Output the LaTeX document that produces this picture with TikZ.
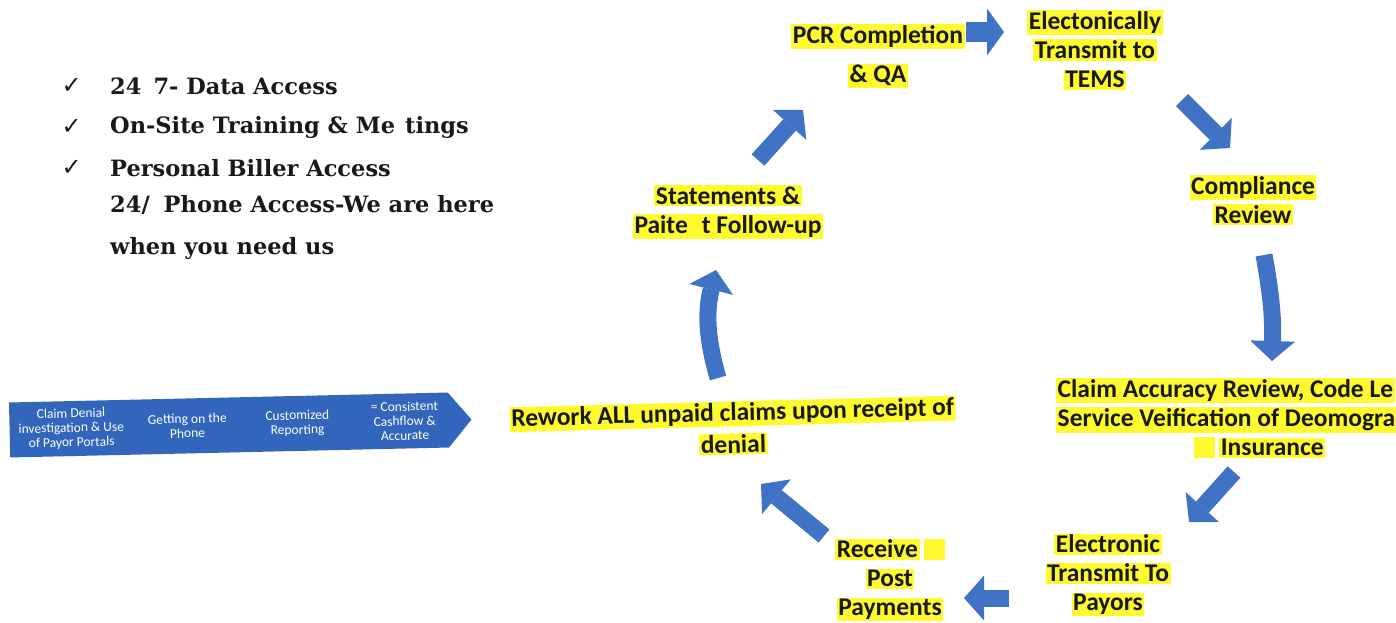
\documentclass[tikz,border=0pt]{standalone}
\usepackage{fontspec}
\newfontfamily\calib{Carlito}
\newfontfamily\symb{DejaVu Sans}
\newfontfamily\perkfont{DejaVu Serif}
\usetikzlibrary{arrows.meta,positioning,calc,shapes.arrows}
\definecolor{ink}{RGB}{25,25,25}
\definecolor{flowblue}{RGB}{64,114,198}
\definecolor{bandblue}{RGB}{50,102,188}
\definecolor{marker}{RGB}{255,250,45}
\newcommand{\hl}[1]{{\setlength{\fboxsep}{1.5pt}\colorbox{marker}{#1}}}
\tikzset{
  perk/.style={font=\perkfont\bfseries\fontsize{22.5}{42}\selectfont, text=ink, anchor=west, inner sep=0pt, align=left},
  tick/.style={font=\symb\fontsize{24}{24}\selectfont, text=ink, inner sep=0pt},
  stage/.style={font=\calib\bfseries\fontsize{25.5}{29}\selectfont, text=ink, align=center, inner sep=0pt},
  turn/.style={line width=17pt, color=flowblue, -{Triangle[width=45pt,length=20pt,line width=0pt]}},
  bandarrow/.style={single arrow, fill=bandblue, inner sep=0pt, single arrow head extend=0pt, single arrow tip angle=100},
  bandtxt/.style={font=\calib\fontsize{13.5}{14.5}\selectfont, text=white, align=center, inner sep=0pt, rotate=1.3},
}

\begin{document}
\begin{tikzpicture}[x=1pt, y=-1pt]
  \useasboundingbox (0,0) rectangle (1396,622);
  % what the client gets
  \node[perk] (p1) at (110,86) {24\hspace{12pt}7- Data Access};
  \node[perk] (p2) at (110,127) {On-Site Training \& Me\hspace{10pt}tings};
  \node[perk] (p3) at (110,168) {Personal Biller Access};
  \node[perk] (p4) at (110,227) {24/\hspace{14pt}Phone Access-We are here\\when you need us};
  \foreach \i in {1,2,3}
    \node[tick, left=28pt of p\i] (t\i) {✓};

  % the band
  \node[bandarrow, minimum height=462pt, minimum width=55pt, rotate=1.3] (band) at (229,425) {};
  \node[bandtxt] (b1) at ($(band.tail)!0.134!(band.tip)$) {Claim Denial\\investigation \& Use\\of Payor Portals};
  \node[bandtxt] (b2) at ($(band.tail)!0.385!(band.tip)$) {Getting on the\\Phone};
  \node[bandtxt] (b3) at ($(band.tail)!0.623!(band.tip)$) {Customized\\Reporting};
  \node[bandtxt] (b4) at ($(band.tail)!0.855!(band.tip)$) {= Consistent\\Cashflow \&\\Accurate};

  % billing cycle
  \node[stage] (pcr) at (878,56) {\hl{PCR Completion}\\[10pt]\hl{\& QA}};
  \node[stage] (tems) at (1095,50) {\hl{Electonically}\\\hl{Transmit to}\\\hl{TEMS}};
  \node[stage] (review) at (1253,200) {\hl{Compliance}\\\hl{Review}};
  \begin{scope}
    \clip (0,0) rectangle (1396,622);
    \node[stage, anchor=west, align=left] (claim) at (1056,418)
      {\hl{Claim Accuracy Review, Code Le}\\\hl{Service Veification of Deomogra}\\\hspace*{138pt}\hl{\phantom{\&}}\,\hl{Insurance}};
  \end{scope}
  \node[stage] (payors) at (1108,575) {\hl{Electronic}\\\hl{Transmit To}\\\hl{Payors}};
  \node[stage] (post) at (890,580) {\hl{Receive}\,\hl{\phantom{\&}}\\\hl{Post}\\\hl{Payments}};
  \node[stage, rotate=1.5] (rework) at (733,428) {\hl{Rework ALL unpaid claims upon receipt of}\\[3pt]\hl{denial}};
  \node[stage] (stmt) at (728,212) {\hl{Statements \&}\\\hl{Paite\hspace{14pt}t Follow-up}};

  \coordinate (a1s) at (758,160); \coordinate (a1e) at (803,110);
  \coordinate (a2s) at (966,32);  \coordinate (a2e) at (1004,32);
  \coordinate (a3s) at (1182,100); \coordinate (a3e) at (1230,148);
  \coordinate (a4s) at (1264,255); \coordinate (a4e) at (1272,361);
  \coordinate (a5s) at (1234,472); \coordinate (a5e) at (1189,522);
  \coordinate (a6s) at (1009,598); \coordinate (a6e) at (964,598);
  \coordinate (a7s) at (824,536); \coordinate (a7e) at (761,484);
  \coordinate (a8s) at (718,378); \coordinate (a8e) at (716,270);
  \draw[turn] (a1s) -- (a1e);
  \draw[turn, line width=20pt, -{Triangle[width=47pt,length=17pt,line width=0pt]}] (a2s) -- (a2e);
  \draw[turn] (a3s) -- (a3e);
  \draw[turn] (a4s) to[bend left=6] (a4e);
  \draw[turn] (a5s) -- (a5e);
  \draw[turn] (a6s) -- (a6e);
  \draw[turn] (a7s) -- (a7e);
  \draw[turn] (a8s) to[bend left=15] (a8e);
\end{tikzpicture}
\end{document}
